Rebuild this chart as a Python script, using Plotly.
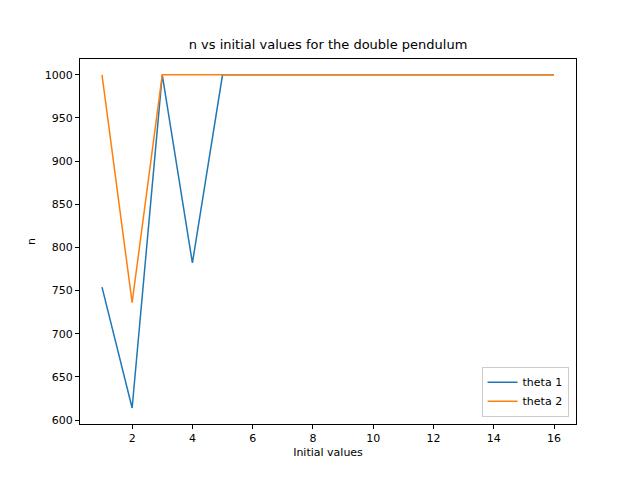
import plotly.graph_objects as go

x = list(range(1, 17))
theta1 = [754, 614, 1000, 782] + [1000] * 12
theta2 = [1000, 736] + [1000] * 14

fig = go.Figure()
fig.add_trace(go.Scatter(x=x, y=theta1, mode="lines", name="theta 1", line=dict(color="#1f77b4", width=1.5)))
fig.add_trace(go.Scatter(x=x, y=theta2, mode="lines", name="theta 2", line=dict(color="#ff7f0e", width=1.5)))

ax = dict(showgrid=False, zeroline=False, showline=True, linecolor="black", linewidth=1, mirror=True,
          ticks="outside", ticklen=4, tickcolor="black")
fig.update_layout(
    width=640, height=480, plot_bgcolor="white", paper_bgcolor="white",
    margin=dict(l=72, r=72, t=51, b=64),
    font=dict(family="DejaVu Sans", size=11, color="black"),
    title=dict(text="n vs initial values for the double pendulum", x=0.5, xanchor="center", y=0.925, yanchor="middle", font=dict(size=13)),
    xaxis=dict(ax, range=[0.27, 16.73], tickvals=[2, 4, 6, 8, 10, 12, 14, 16], title=dict(text="Initial values", font=dict(size=11), standoff=4)),
    yaxis=dict(ax, range=[595.4, 1018.3], tickvals=[600, 650, 700, 750, 800, 850, 900, 950, 1000], title=dict(text="n", font=dict(size=11), standoff=6)),
    legend=dict(x=0.985, y=0.02, xanchor="right", yanchor="bottom", bordercolor="#cccccc", borderwidth=1, bgcolor="white"),
)
fig.write_html("out.html")
